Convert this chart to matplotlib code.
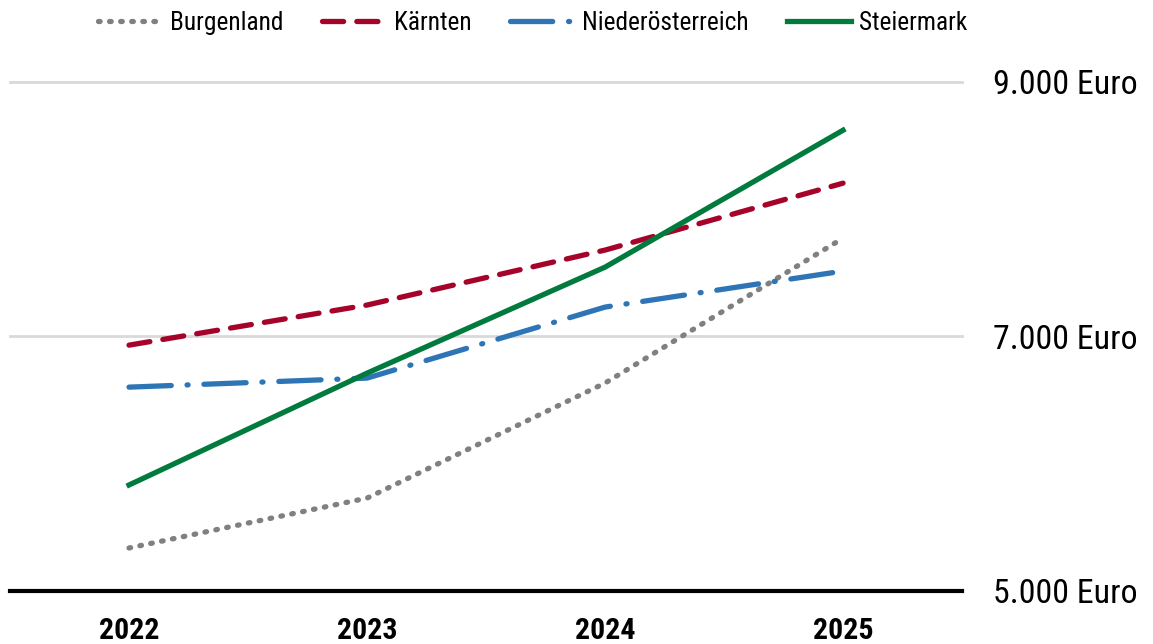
import matplotlib
matplotlib.use("Agg")
import matplotlib.pyplot as plt
from matplotlib.font_manager import fontManager

names = {f.name for f in fontManager.ttflist}
candidates = ['Liberation Sans Narrow', 'Arial Narrow', 'Roboto Condensed', 'PT Sans Narrow', 'Archivo Narrow']
chosen = [c for c in candidates if c in names][:1]
plt.rcParams['font.family'] = chosen + ['Liberation Sans', 'DejaVu Sans']

years = [2022, 2023, 2024, 2025]
burgenland = [5338, 5730, 6634, 7773]
kaernten = [6932, 7247, 7679, 8205]
niederoesterreich = [6602, 6673, 7231, 7514]
steiermark = [5833, 6712, 7545, 8621]
yticks = [5000, 7000, 9000]
ytick_labels = ["5.000 Euro", "7.000 Euro", "9.000 Euro"]

fig = plt.figure(figsize=(11.53, 6.44), dpi=100)
ax = fig.add_axes([0.0087, 0.0823, 0.8257, 0.7904])

lw = 3.8
ax.plot(years, burgenland, color='#808080', lw=lw, linestyle=(0, (0.3, 1.8)), dash_capstyle='round', label='Burgenland')
ax.plot(years, kaernten, color='#A6032A', lw=lw, linestyle=(0, (4, 2.5)), dash_capstyle='round', label='Kärnten')
ax.plot(years, niederoesterreich, color='#2E75B6', lw=lw, linestyle=(0, (8, 3, 0.2, 3)), dash_capstyle='round', label='Niederösterreich')
ax.plot(years, steiermark, color='#007A3D', lw=lw, linestyle='-', label='Steiermark')

ax.set_xlim(2021.5, 2025.5)
ax.set_ylim(5000, 9000)
ax.set_xticks(years)
ax.set_xticklabels([str(y) for y in years], fontsize=21.5, fontweight='bold')
ax.set_yticks(yticks)
ax.set_yticklabels(ytick_labels, fontsize=24.5)
ax.yaxis.tick_right()
ax.tick_params(axis='y', length=0, pad=22)
ax.tick_params(axis='x', length=0, pad=19)
for v in yticks[1:]:
    ax.axhline(v, color='#D9D9D9', lw=2, zorder=0, clip_on=False)
for s in ['top', 'right', 'left']:
    ax.spines[s].set_visible(False)
ax.spines['bottom'].set_linewidth(3)
ax.spines['bottom'].set_color('black')

fig.legend(loc='upper center', bbox_to_anchor=(0.462, 1.018), ncol=4, frameon=False,
           fontsize=18.3, handlelength=2.5, columnspacing=1.5, handletextpad=0.35)

fig.savefig('out.png', dpi=100)
